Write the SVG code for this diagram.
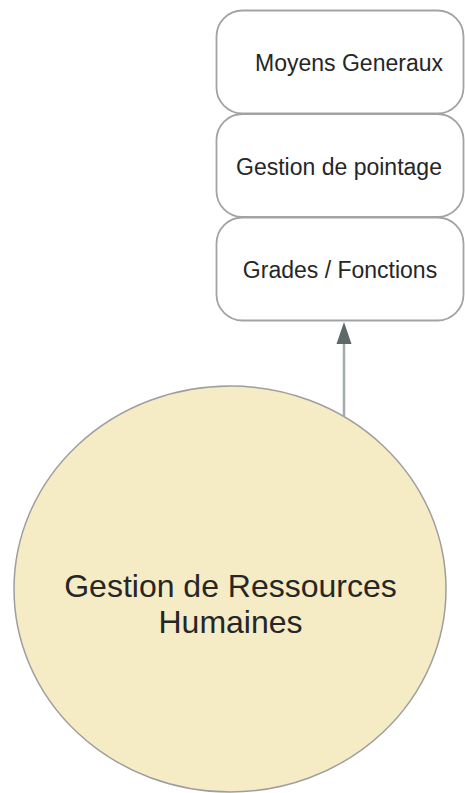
<svg xmlns="http://www.w3.org/2000/svg" width="465" height="793" viewBox="0 0 465 793">
<style>
.box{fill:#ffffff;stroke:#a3a3a3;stroke-width:1.8}
.t{font-family:"Liberation Sans",Arial,sans-serif;fill:#262626;text-anchor:middle}
.small{font-size:23px}
.big{font-size:32px}
.conn{stroke:#a4a9a9;stroke-width:2.5;fill:none}
</style>
<rect width="465" height="793" fill="#ffffff"/>
<g id="node-moyens">
<rect class="box" x="216.5" y="10.5" width="247" height="103" rx="26" ry="26"/>
<text class="t small" x="349" y="71">Moyens Generaux</text>
</g>
<g id="node-pointage">
<rect class="box" x="216.5" y="114" width="247" height="103" rx="26" ry="26"/>
<text class="t small" x="339" y="174.5">Gestion de pointage</text>
</g>
<g id="node-grades">
<rect class="box" x="216.5" y="217.5" width="247" height="103" rx="26" ry="26"/>
<text class="t small" x="340" y="277.5">Grades / Fonctions</text>
</g>
<g id="node-grh">
<ellipse cx="230" cy="589" rx="216" ry="203" fill="#f5ebc5" stroke="#9e9e9e" stroke-width="1.5"/>
<text class="t big" x="230.5" y="597">Gestion de Ressources</text>
<text class="t big" x="230.5" y="633">Humaines</text>
</g>
<g id="connectors">
<line class="conn" x1="344" y1="417" x2="344" y2="340"/>
<polygon points="344,322 351.5,344 336.5,344" fill="#5b6969"/>
</g>
</svg>
